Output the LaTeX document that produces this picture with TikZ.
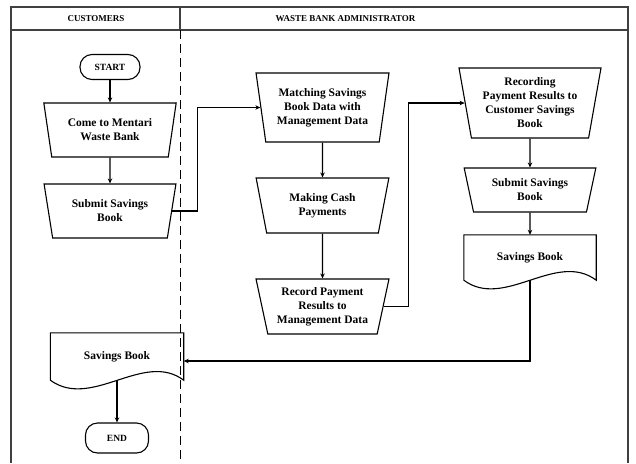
\documentclass[tikz,border=0pt]{standalone}
\usepackage{fontspec}
\setmainfont{Liberation Serif}
\usetikzlibrary{shapes.geometric,arrows.meta,calc}

% wavy-bottom document outline around a named rectangle node
\newcommand\docshape[1]{%
  \draw[flow] (#1.south east)
    .. controls ($(#1.south east)+(-40,-30)$) and ($(#1.south east)+(-92,30)$) .. (#1.south west)
    -- (#1.north west) -- (#1.north east) -- cycle;}

\tikzset{
  flow/.style={line width=1.1pt, draw=black},
  txt/.style={font=\fontsize{11.5}{14}\selectfont\bfseries, align=center},
  terminal/.style={flow, rectangle, rounded corners=12pt, align=center,
    font=\fontsize{9.5}{11}\selectfont\bfseries},
  manual/.style={flow, txt, trapezium, shape border rotate=180,
    trapezium stretches=true, trapezium angle=#1, inner sep=0pt},
  docbox/.style={txt, rectangle, inner sep=0pt},
  arr/.style={line width=1.1pt, -{Stealth[length=5pt,width=4.5pt]}},
  frame/.style={line width=1.3pt, draw=black!75},
  divider/.style={line width=1pt, dash pattern=on 9pt off 5pt},
  hdr/.style={font=\fontsize{9}{11}\selectfont\bfseries}
}

\begin{document}
\begin{tikzpicture}[x=1pt, y=-1pt]
\useasboundingbox (0,0) rectangle (636,463);

% swimlane frame and headers
\draw[frame] (11,463) -- (11,7) -- (628,7) -- (628,463);
\draw[frame] (11,30) -- (628,30);
\draw[frame] (180,7) -- (180,30);
\draw[divider] (180,30) -- (180,463);
\node[hdr] (hcust) at (96,18.5) {CUSTOMERS};
\node[hdr] (hadmin) at (345.5,18.5) {WASTE BANK ADMINISTRATOR};

% customers lane
\node[terminal, minimum width=60pt, minimum height=25pt] (start) at (110,67) {START};
\node[manual=75.5, minimum width=133pt, minimum height=54pt] (come) at (110,130) {Come to Mentari\\Waste Bank};
\node[manual=75.5, minimum width=133pt, minimum height=54pt] (sub1) at (110,211) {Submit Savings\\Book};
\node[docbox, minimum width=133pt, minimum height=47pt] (sb1) at (117,356.5) {Savings Book};
\docshape{sb1}
\node[terminal, minimum width=63pt, minimum height=30pt] (end) at (117,438) {END};

% administrator lane
\node[manual=78.5, minimum width=133pt, minimum height=69pt] (match) at (322.5,107.5) {Matching Savings\\Book Data with\\Management Data};
\node[manual=75.7, minimum width=133pt, minimum height=55pt] (cash) at (322.5,205.5) {Making Cash\\Payments};
\node[manual=75.7, minimum width=133pt, minimum height=55pt] (record) at (322.5,306.5) {Record Payment\\Results to\\Management Data};
\node[manual=78.7, minimum width=142pt, minimum height=70pt] (rec) at (530,103) {Recording\\Payment Results to\\Customer Savings\\Book};
\node[manual=74, minimum width=132pt, minimum height=44pt] (sub2) at (530,190) {Submit Savings\\Book};
\node[docbox, minimum width=132pt, minimum height=45pt] (sb2) at (530,257.5) {Savings Book};
\docshape{sb2}

% connectors
\draw[arr] (start) -- (come);
\draw[arr] (come) -- (sub1);
\draw[arr] (sub1.east) -- ++(25,0) |- (match.west);
\draw[arr] (match) -- (cash);
\draw[arr] (cash) -- (record);
\draw[arr] (record.east) -- ++(25,0) |- (rec.west);
\draw[arr] (rec) -- (sub2);
\draw[arr] (sub2) -- (sb2);
\draw[arr] (sb2.south) |- ([yshift=-4.5pt]sb1.east);
\draw[arr] (sb1.south) -- (end);
\end{tikzpicture}
\end{document}
